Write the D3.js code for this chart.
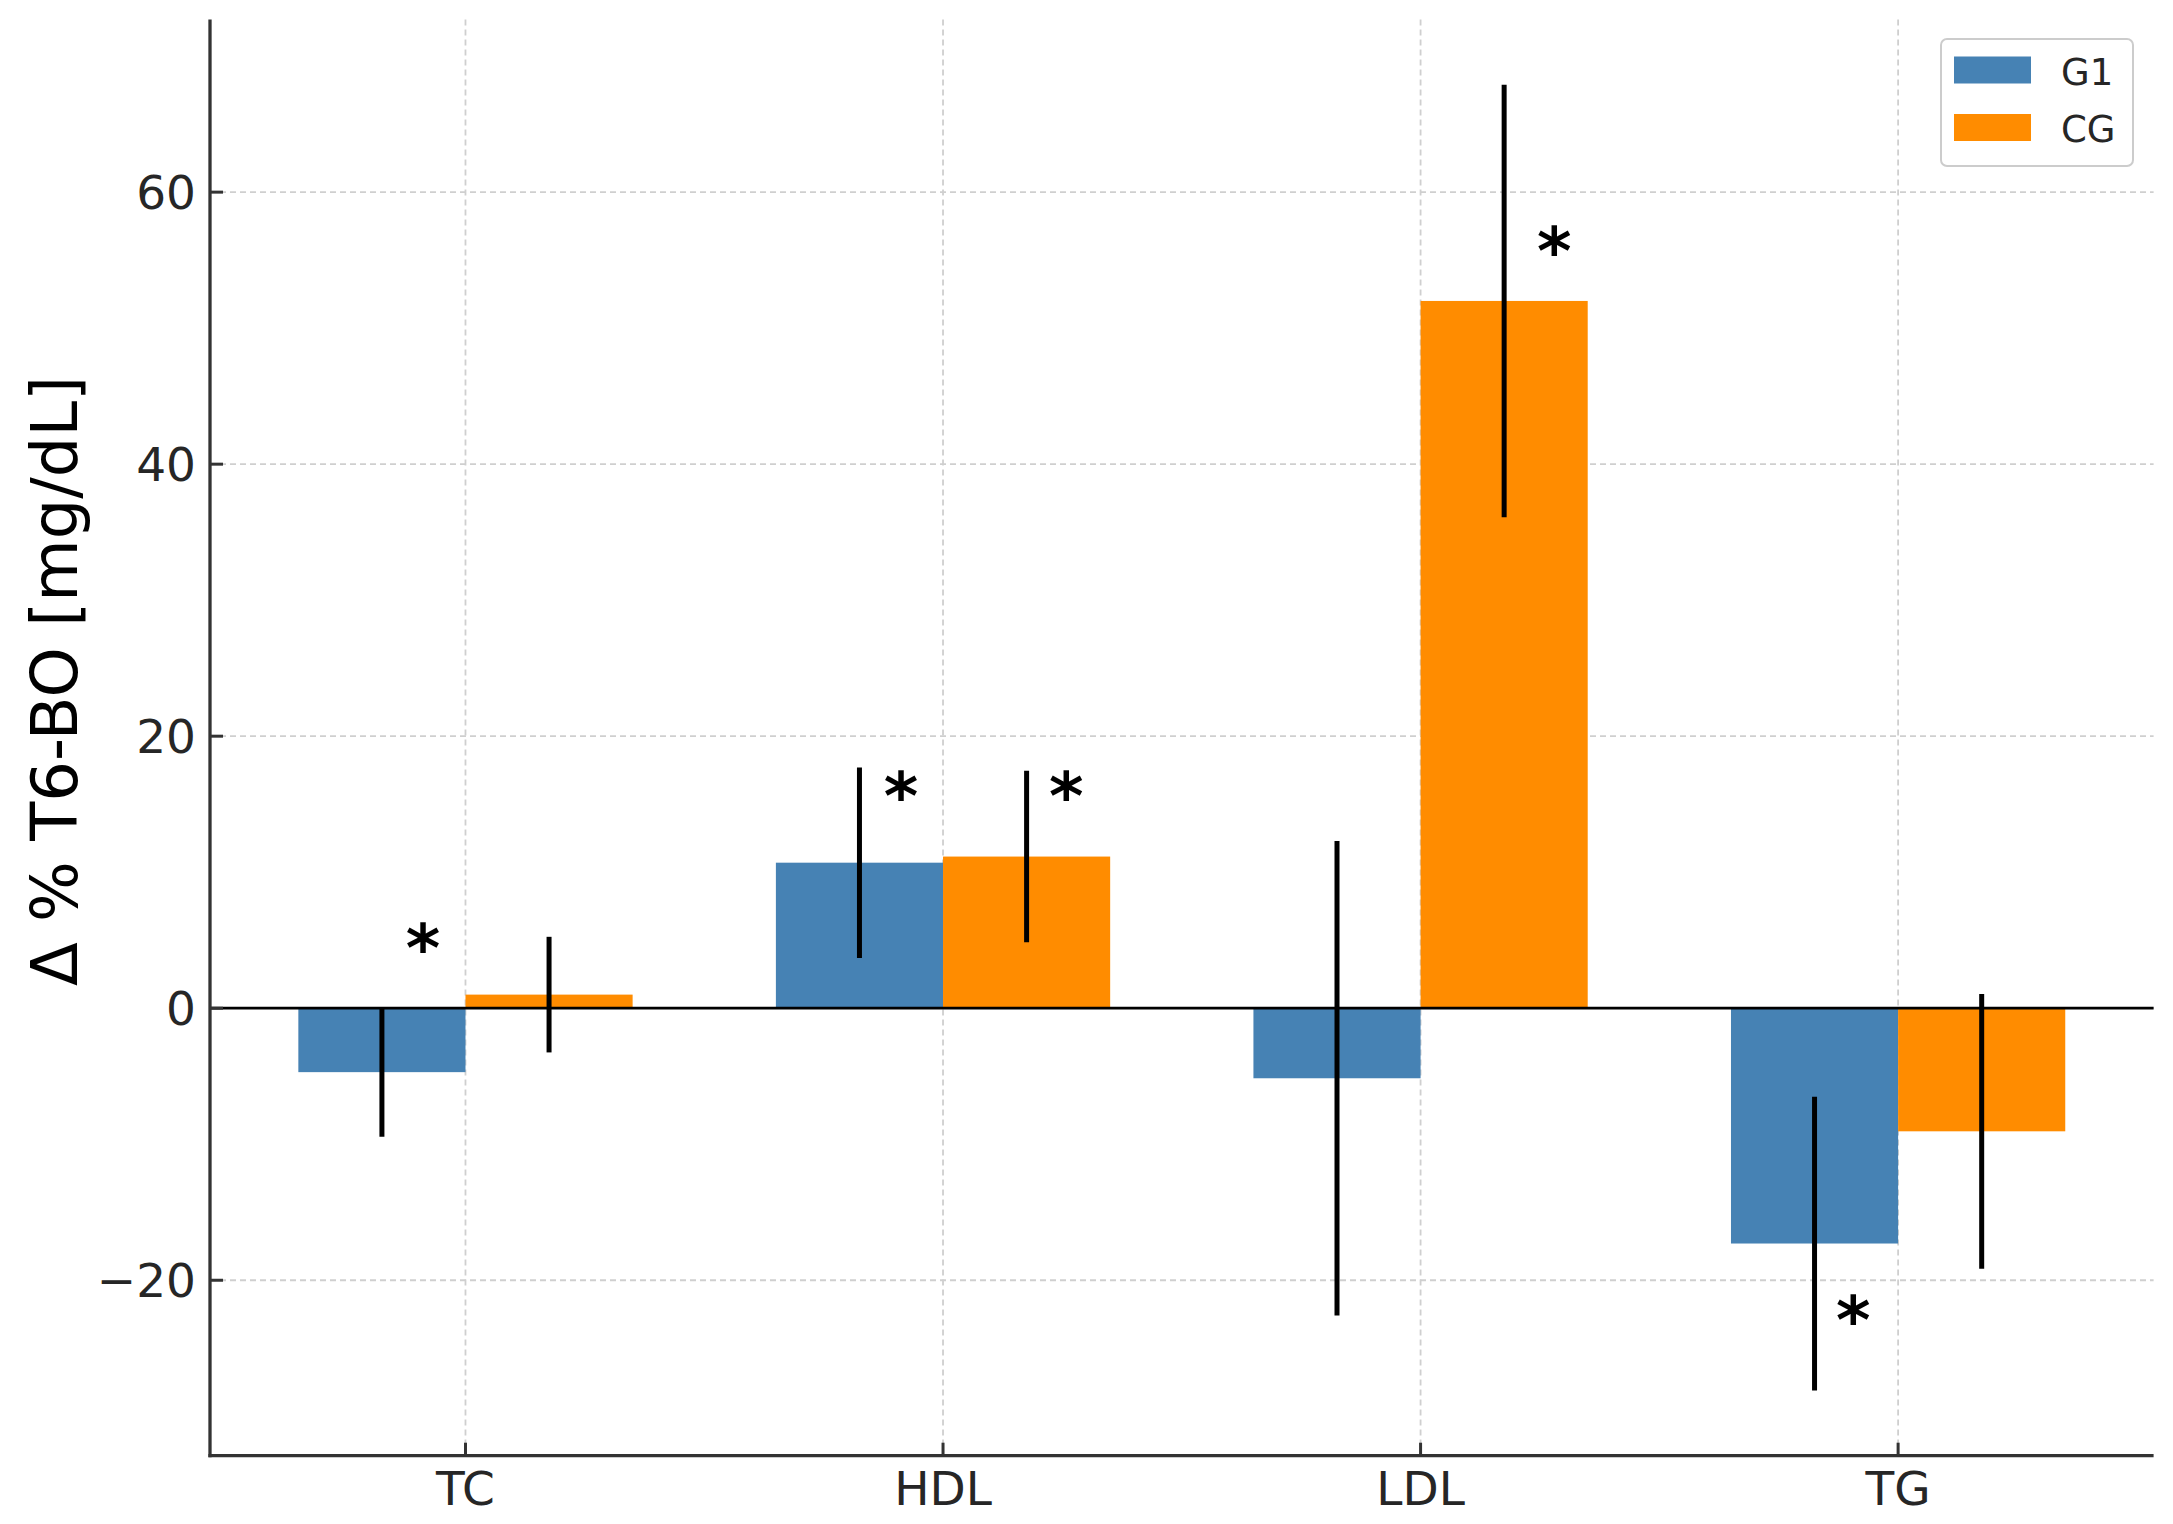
<!DOCTYPE html>
<html>
<head>
<meta charset="utf-8">
<script src="https://cdn.jsdelivr.net/npm/d3@7"></script>
<style>
  html, body { margin: 0; padding: 0; background: #ffffff; }
  svg { display: block; font-family: "DejaVu Sans", sans-serif; }
</style>
</head>
<body>
<svg id="chart" width="2173" height="1524"></svg>
<script>
// ---- Data ----
const categories = ["TC", "HDL", "LDL", "TG"];
const seriesNames = ["G1", "CG"];
const g1Values = [-4.7, 10.7, -5.15, -17.3];
const g1Errors = [4.75, 7.0, 17.45, 10.8];
const cgValues = [1.0, 11.15, 52.0, -9.05];
const cgErrors = [4.25, 6.3, 15.9, 10.1];
const yTickValues = [-20, 0, 20, 40, 60];
const yLabel = "Δ % T6-BO [mg/dL]";
// significance markers: category, offset from category centre (category units), y value
const starCategories = ["TC", "HDL", "HDL", "LDL", "TG"];
const starOffsets = [-0.089, -0.088, 0.258, 0.280, -0.094];
const starValues = [4.98, 16.13, 16.13, 56.19, -22.35];

// ---- Layout ----
const colors = { G1: "#4682B4", CG: "#FF8C00" };
const barW = 0.35;
const plot = { left: 210, right: 2153.6, top: 19.4, bottom: 1455.7 };

const svg = d3.select("#chart");

const series = [
  { name: "G1", values: g1Values, errors: g1Errors, shift: -barW / 2 },
  { name: "CG", values: cgValues, errors: cgErrors, shift: barW / 2 }
];

// x scale (category index) with 5% margins like matplotlib
const xLo = -barW, xHi = categories.length - 1 + barW;
const xm = (xHi - xLo) * 0.05;
const x = d3.scaleLinear().domain([xLo - xm, xHi + xm]).range([plot.left, plot.right]);

// y scale from data incl. error bars, with 5% margins
const lows = [], highs = [];
series.forEach(s => s.values.forEach((v, i) => { lows.push(v - s.errors[i], 0); highs.push(v + s.errors[i], 0); }));
const yMin = d3.min(lows), yMax = d3.max(highs);
const ym = (yMax - yMin) * 0.05;
const y = d3.scaleLinear().domain([yMin - ym, yMax + ym]).range([plot.bottom, plot.top]);

// ---- Grid ----
const grid = svg.append("g");
grid.selectAll("line.h").data(yTickValues).enter().append("line")
  .attr("x1", plot.left).attr("x2", plot.right)
  .attr("y1", d => y(d)).attr("y2", d => y(d))
  .attr("stroke", "#cfcfcf").attr("stroke-width", 1.8).attr("stroke-dasharray", "6,4");
grid.selectAll("line.v").data(categories).enter().append("line")
  .attr("x1", (d, i) => x(i)).attr("x2", (d, i) => x(i))
  .attr("y1", plot.top).attr("y2", plot.bottom)
  .attr("stroke", "#cfcfcf").attr("stroke-width", 1.8).attr("stroke-dasharray", "6,4");

// ---- Bars ----
series.forEach(s => {
  svg.append("g").selectAll("rect").data(s.values).enter().append("rect")
    .attr("x", (d, i) => x(i + s.shift - barW / 2))
    .attr("width", x(barW) - x(0))
    .attr("y", d => y(Math.max(0, d)))
    .attr("height", d => Math.abs(y(d) - y(0)))
    .attr("fill", colors[s.name]);
});

// zero line
svg.append("line")
  .attr("x1", plot.left).attr("x2", plot.right)
  .attr("y1", y(0)).attr("y2", y(0))
  .attr("stroke", "#000").attr("stroke-width", 2.7);

// ---- Error bars ----
series.forEach(s => {
  svg.append("g").selectAll("line").data(s.values).enter().append("line")
    .attr("x1", (d, i) => x(i + s.shift)).attr("x2", (d, i) => x(i + s.shift))
    .attr("y1", (d, i) => y(d + s.errors[i]))
    .attr("y2", (d, i) => y(d - s.errors[i]))
    .attr("stroke", "#000").attr("stroke-width", 5);
});

// ---- Stars ----
const starFs = 66;
svg.append("g").selectAll("text").data(starValues).enter().append("text")
  .attr("x", (d, i) => x(categories.indexOf(starCategories[i]) + starOffsets[i]))
  .attr("y", d => y(d) + starFs * 0.46)
  .attr("text-anchor", "middle")
  .attr("font-size", starFs).attr("font-weight", "bold")
  .attr("fill", "#000")
  .text("*");

// ---- Axes ----
const axisColor = "#333333";
// left spine
svg.append("line").attr("x1", plot.left).attr("x2", plot.left)
  .attr("y1", plot.top).attr("y2", plot.bottom + 1.6)
  .attr("stroke", axisColor).attr("stroke-width", 3.3);
// bottom spine
svg.append("line").attr("x1", plot.left - 1.6).attr("x2", plot.right)
  .attr("y1", plot.bottom).attr("y2", plot.bottom)
  .attr("stroke", axisColor).attr("stroke-width", 3.3);

const tickFs = 47;
// y ticks (inward)
const yT = svg.append("g");
yT.selectAll("line").data(yTickValues).enter().append("line")
  .attr("x1", plot.left).attr("x2", plot.left + 13)
  .attr("y1", d => y(d)).attr("y2", d => y(d))
  .attr("stroke", axisColor).attr("stroke-width", 3);
yT.selectAll("text").data(yTickValues).enter().append("text")
  .attr("x", plot.left - 14)
  .attr("y", d => y(d) + tickFs * 0.364)
  .attr("text-anchor", "end")
  .attr("font-size", tickFs).attr("fill", "#262626")
  .text(d => d < 0 ? "\u2212" + Math.abs(d) : String(d));

// x ticks (inward)
const xT = svg.append("g");
xT.selectAll("line").data(categories).enter().append("line")
  .attr("x1", (d, i) => x(i)).attr("x2", (d, i) => x(i))
  .attr("y1", plot.bottom).attr("y2", plot.bottom - 13)
  .attr("stroke", axisColor).attr("stroke-width", 3);
xT.selectAll("text").data(categories).enter().append("text")
  .attr("x", (d, i) => x(i))
  .attr("y", 1505)
  .attr("text-anchor", "middle")
  .attr("font-size", tickFs).attr("fill", "#262626")
  .text(d => d);

// y label
svg.append("text")
  .attr("transform", "translate(77,681) rotate(-90)")
  .attr("text-anchor", "middle")
  .attr("font-size", 64).attr("fill", "#000")
  .text(yLabel);

// ---- Legend ----
const lg = svg.append("g");
lg.append("rect").attr("x", 1941).attr("y", 39).attr("width", 192).attr("height", 127)
  .attr("rx", 6).attr("fill", "#fff").attr("fill-opacity", 0.85)
  .attr("stroke", "#cccccc").attr("stroke-width", 2);
seriesNames.forEach((n, i) => {
  const top = 56.5 + i * 57.5;
  lg.append("rect").attr("x", 1954).attr("y", top).attr("width", 77).attr("height", 27)
    .attr("fill", colors[n]);
  lg.append("text").attr("x", 2061).attr("y", top + 28)
    .attr("font-size", 37).attr("fill", "#262626").text(n);
});
</script>
</body>
</html>
